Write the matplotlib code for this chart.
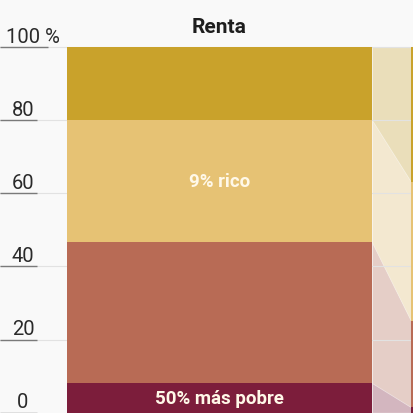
import numpy as np
import matplotlib.pyplot as plt

# ============================================================
# DATOS
# ============================================================
grupos = ["50% más pobre", "40% medio", "9% rico", "1% más rico"]
renta = [8.1, 38.5, 33.5, 19.9]
riqueza = [1.5, 23.6, 38.1, 36.8]
colores = ["#7C1D3B", "#B86B55", "#E6C274", "#C9A22B"]
etiquetas_visibles = {"50% más pobre", "9% rico"}

ticks = [0, 20, 40, 60, 80, 100]
tick_labels = ["0", "20", "40", "60", "80", "100 %"]

BG = "#f9f9f9"
FUENTE = ["Roboto", "DejaVu Sans"]

# ============================================================
# FIGURA
# ============================================================
fig = plt.figure(figsize=(4.14, 4.14), dpi=100, facecolor=BG)
ax = fig.add_axes([0, 0, 1, 1], facecolor=BG)

PX = 344.0                       # px entre barras
xl = -219.5 / PX
ax.set_xlim(xl, (414 - 219.5) / PX)
ax.set_ylim(-0.11, 113.2)
hw = 305 / PX / 2

barras = [renta, riqueza]
cum = [np.concatenate([[0], np.cumsum(b)]) for b in barras]

# rejilla tenue
for t in ticks[1:]:
    ax.axhline(t, color="#e2e2e2", lw=0.8, zorder=2)

# barras
for i, b in enumerate(barras):
    ax.bar(i, b, width=2 * hw, bottom=cum[i][:-1], color=colores,
           linewidth=0, zorder=3)

# conectores entre barras
xs = [0 + hw, 1 - hw]
for k, c in enumerate(colores):
    ax.fill_between(xs, [cum[0][k], cum[1][k]], [cum[0][k + 1], cum[1][k + 1]],
                    color=c, alpha=0.3, linewidth=0.6, edgecolor="white",
                    zorder=1)

# etiquetas dentro de la barra
for k, g in enumerate(grupos):
    if g in etiquetas_visibles:
        ax.text(0, (cum[0][k] + cum[0][k + 1]) / 2, g, ha="center",
                va="center", color="#fff8e8", fontsize=13.5,
                fontweight="bold", family=FUENTE, zorder=4)

ax.text(0, 105.6, "Renta", ha="center", va="center", color="#1e1e1e",
        fontsize=15, fontweight="bold", family=FUENTE)

# eje y: etiqueta sobre línea corta
for t, lab in zip(ticks, tick_labels):
    largo = 48 if t == 100 else 37
    ax.plot([xl, xl + largo / PX], [t, t], color="#7a7a7a", lw=1,
            solid_capstyle="butt", zorder=5)
    if t == 100:
        ax.annotate(lab, xy=(xl + 6 / PX, t), xytext=(0, 3.8),
                    textcoords="offset points", ha="left", va="baseline",
                    fontsize=14.5, color="#2a2a2a", family=FUENTE)
    else:
        ax.annotate(lab, xy=(xl + 23 / PX, t), xytext=(0, 3.8),
                    textcoords="offset points", ha="center", va="baseline",
                    fontsize=14.5, color="#2a2a2a", family=FUENTE)

ax.axis("off")
fig.savefig("out.png", dpi=100, facecolor=BG)
